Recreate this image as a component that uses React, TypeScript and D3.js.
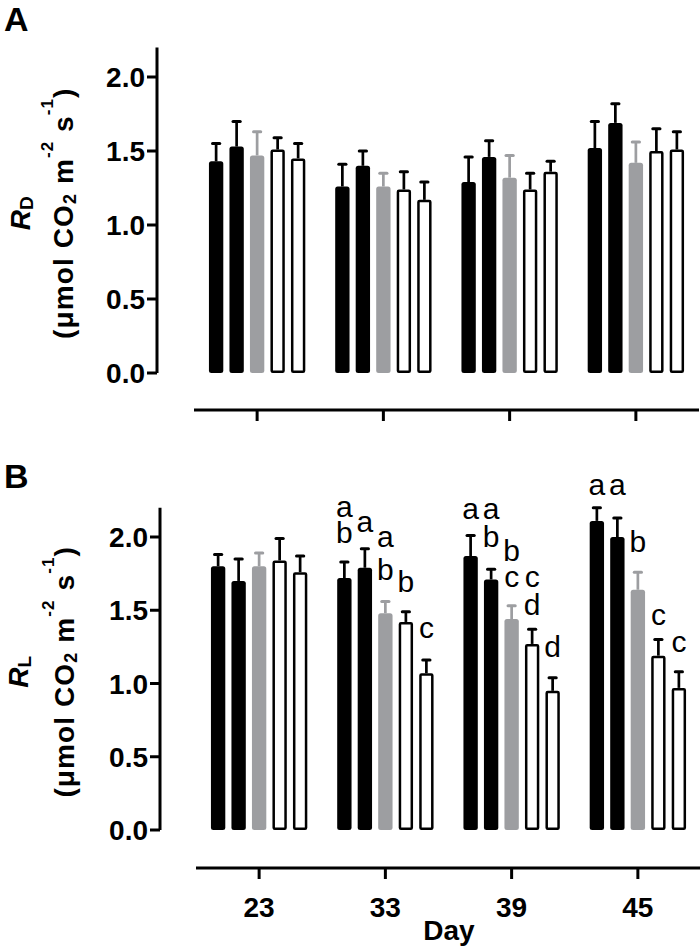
import React from "react";
import * as d3 from "d3";

// ---------- data ----------
const days = ["23", "33", "39", "45"];
const treatments = ["T1", "T2", "T3", "T4", "T5"];
const treatmentFill = ["black", "black", "gray", "white", "white"];

// Panel A: R_D means and SE (per day, per treatment)
const rdMean = [
  [1.43, 1.53, 1.47, 1.51, 1.45],
  [1.26, 1.40, 1.26, 1.24, 1.17],
  [1.29, 1.46, 1.32, 1.24, 1.36],
  [1.52, 1.69, 1.42, 1.50, 1.51],
];
const rdSE = [
  [0.12, 0.17, 0.16, 0.08, 0.10],
  [0.15, 0.10, 0.09, 0.12, 0.12],
  [0.17, 0.11, 0.15, 0.11, 0.07],
  [0.18, 0.13, 0.14, 0.15, 0.12],
];

// Panel B: R_L means and SE
const rlMean = [
  [1.80, 1.70, 1.80, 1.84, 1.76],
  [1.72, 1.79, 1.48, 1.42, 1.07],
  [1.87, 1.71, 1.44, 1.27, 0.95],
  [2.11, 2.00, 1.64, 1.19, 0.97],
];
const rlSE = [
  [0.08, 0.15, 0.09, 0.15, 0.11],
  [0.11, 0.13, 0.08, 0.07, 0.09],
  [0.14, 0.07, 0.09, 0.10, 0.09],
  [0.09, 0.13, 0.12, 0.11, 0.11],
];

// Significance letters for panel B (stacked letters per bar) and their baseline values
const rlLetters = [
  [[], [], [], [], []],
  [["a", "b"], ["a"], ["a", "b"], ["b"], ["c"]],
  [["a"], ["a", "b"], ["b", "c"], ["c", "d"], ["d"]],
  [["a"], ["a"], ["b"], ["c"], ["c"]],
];
const rlLetterY = [
  [[], [], [], [], []],
  [[2.139, 1.957], [2.036], [1.934, 1.706], [1.627], [1.309]],
  [[2.121], [2.121, 1.934], [1.838, 1.661], [1.661, 1.468], [1.183]],
  [[2.287], [2.287], [1.90], [1.399], [1.217]],
];

const yTicks = [0, 0.5, 1.0, 1.5, 2.0];

// ---------- styling ----------
const FONT = "'Liberation Sans', Arial, Helvetica, sans-serif";
const GRAY = "#9d9ea1";
const colorOf = (f: string) => (f === "gray" ? GRAY : "black");

type PanelProps = {
  letter: string;
  sub: string;
  means: number[][];
  ses: number[][];
  y0: number;
  pxPerUnit: number;
  axisX: number;
  xRange: [number, number];
  xAxisY: number;
  showXLabels: boolean;
  letters?: string[][][];
  letterY?: number[][][];
  labelX1: number;
  labelX2: number;
  panelLabelY: number;
};

function Panel(p: PanelProps) {
  const y = d3.scaleLinear().domain([0, 2.2]).range([p.y0, p.y0 - 2.2 * p.pxPerUnit]);
  const x = d3.scaleBand<string>().domain(days).range(p.xRange).paddingInner(0).paddingOuter(0);
  const half = x.step() * 0.406;
  const sub = d3
    .scaleBand<number>()
    .domain(d3.range(treatments.length))
    .range([-half, half])
    .paddingInner(0.3)
    .paddingOuter(0.15);
  const bw = sub.bandwidth();
  const cy = (p.y0 + y(2.2)) / 2 + 3;
  const fmt = d3.format(".1f");

  return (
    <g>
      <text x={4} y={p.panelLabelY} fontFamily={FONT} fontWeight="bold" fontSize={34}>
        {p.letter}
      </text>
      {/* y axis label */}
      <text
        transform={`translate(${p.labelX1},${cy}) rotate(-90)`}
        textAnchor="middle"
        fontFamily={FONT}
        fontWeight="bold"
        fontSize={28}
      >
        <tspan fontStyle="italic">R</tspan>
        <tspan fontSize={19} dy={3}>{p.sub}</tspan>
      </text>
      <text
        transform={`translate(${p.labelX2},${cy}) rotate(-90)`}
        textAnchor="middle"
        fontFamily={FONT}
        fontWeight="bold"
        fontSize={28}
        letterSpacing={1.1}
      >
        <tspan>(μmol CO</tspan>
        <tspan fontSize={18} dy={3}>2</tspan>
        <tspan dy={-3}> m</tspan>
        <tspan fontSize={17} dy={-20}>-2</tspan>
        <tspan dy={20}> s</tspan>
        <tspan fontSize={17} dy={-20}>-1</tspan>
        <tspan dy={20}>)</tspan>
      </text>

      {/* y axis */}
      <line x1={p.axisX} x2={p.axisX} y1={y(0)} y2={y(2.2)} stroke="black" strokeWidth={3} />
      {yTicks.map((t) => (
        <g key={t}>
          <line x1={p.axisX - 10} x2={p.axisX} y1={y(t)} y2={y(t)} stroke="black" strokeWidth={3} />
          <text
            x={p.axisX - 12}
            y={y(t) + 10}
            textAnchor="end"
            fontFamily={FONT}
            fontWeight="bold"
            fontSize={28}
          >
            {fmt(t)}
          </text>
        </g>
      ))}

      {/* x axis */}
      <line x1={p.xRange[0]} x2={p.xRange[1]} y1={p.xAxisY} y2={p.xAxisY} stroke="black" strokeWidth={3} />
      {days.map((d) => {
        const cx = (x(d) as number) + x.bandwidth() / 2;
        return (
          <g key={d}>
            <line x1={cx} x2={cx} y1={p.xAxisY} y2={p.xAxisY + 11} stroke="black" strokeWidth={3} />
            {p.showXLabels && (
              <text
                x={cx}
                y={p.xAxisY + 49}
                textAnchor="middle"
                fontFamily={FONT}
                fontWeight="bold"
                fontSize={28}
              >
                {d}
              </text>
            )}
          </g>
        );
      })}

      {/* bars */}
      {days.map((d, di) => {
        const gx = (x(d) as number) + x.bandwidth() / 2;
        return (
          <g key={d}>
            {treatments.map((t, ti) => {
              const m = p.means[di][ti];
              const e = p.ses[di][ti];
              const fill = treatmentFill[ti];
              const bx = gx + (sub(ti) as number);
              const cx = bx + bw / 2;
              const top = y(m);
              const etop = y(m + e);
              const col = colorOf(fill);
              const isWhite = fill === "white";
              return (
                <g key={t}>
                  <line x1={cx} x2={cx} y1={top} y2={etop} stroke={col} strokeWidth={2.7} />
                  <line x1={cx - 3.6} x2={cx + 3.6} y1={etop} y2={etop} stroke={col} strokeWidth={3} strokeLinecap="round" />
                  {isWhite ? (
                    <rect
                      x={bx + 1.25}
                      y={top + 1.25}
                      width={bw - 2.5}
                      height={y(0) - top - 2.5}
                      fill="white"
                      stroke="black"
                      strokeWidth={2.5}
                      rx={1}
                    />
                  ) : (
                    <rect x={bx} y={top} width={bw} height={y(0) - top} fill={col} rx={2.5} />
                  )}
                  {p.letters &&
                    p.letterY &&
                    p.letters[di][ti].map((L, li) => (
                      <text
                        key={li}
                        x={cx}
                        y={y(p.letterY![di][ti][li])}
                        textAnchor="middle"
                        fontFamily={FONT}
                        fontSize={30}
                      >
                        {L}
                      </text>
                    ))}
                </g>
              );
            })}
          </g>
        );
      })}
    </g>
  );
}

export default function App() {
  return (
    <svg
      width={700}
      height={950}
      style={{ position: "absolute", left: 0, top: 0, background: "white" }}
    >
      <rect width={700} height={950} fill="white" />
      <Panel
        letter="A"
        sub="D"
        means={rdMean}
        ses={rdSE}
        y0={373}
        pxPerUnit={148}
        axisX={157}
        xRange={[194, 699]}
        xAxisY={410}
        showXLabels={false}
        labelX1={30}
        labelX2={73}
        panelLabelY={31}
      />
      <Panel
        letter="B"
        sub="L"
        means={rlMean}
        ses={rlSE}
        y0={830}
        pxPerUnit={146.5}
        axisX={160}
        xRange={[196, 701]}
        xAxisY={868}
        showXLabels={true}
        letters={rlLetters}
        letterY={rlLetterY}
        labelX1={28}
        labelX2={74}
        panelLabelY={488}
      />
      <text x={449} y={940} textAnchor="middle" fontFamily={FONT} fontWeight="bold" fontSize={28}>
        Day
      </text>
    </svg>
  );
}
